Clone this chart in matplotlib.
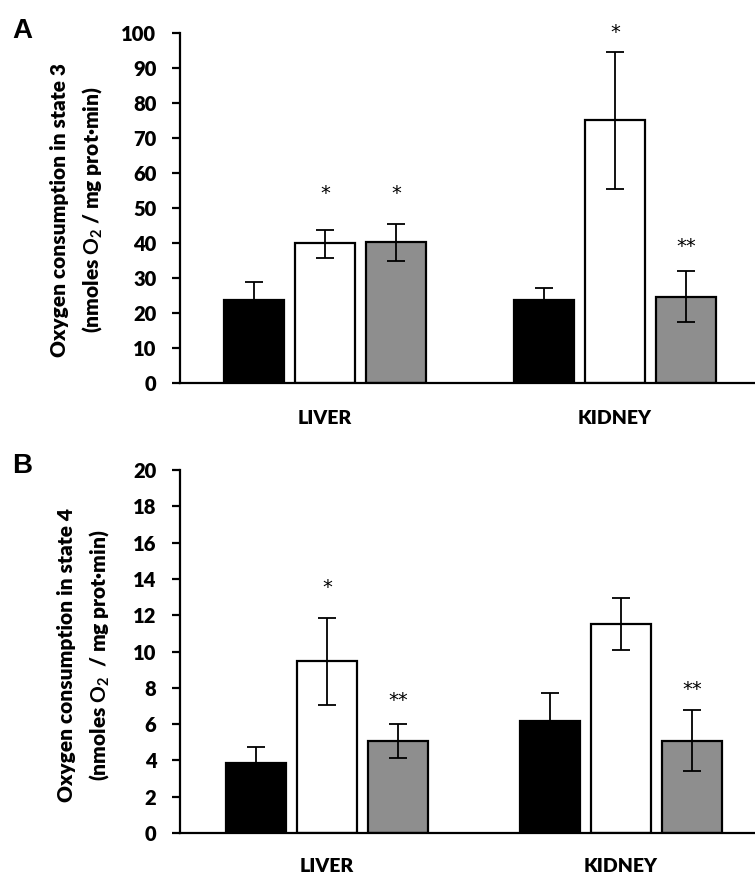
import matplotlib
matplotlib.use("Agg")
import matplotlib.pyplot as plt
import numpy as np

plt.rcParams['font.family'] = ['Lato', 'DejaVu Sans']
plt.rcParams['mathtext.fontset'] = 'custom'
plt.rcParams['mathtext.rm'] = 'Lato:bold'
plt.rcParams['mathtext.bf'] = 'Lato:bold'
plt.rcParams['mathtext.it'] = 'Lato:bold'

# ---- data ----
organs = ["LIVER", "KIDNEY"]
groups = ["Control", "Treatment 1", "Treatment 2"]
bar_colors = ["#000000", "#ffffff", "#8e8e8e"]

# Panel A: state 3
state3_mean = [[23.7, 40.0, 40.2], [23.6, 75.1, 24.7]]
state3_err_hi = [[5.2, 3.7, 5.2], [3.4, 19.5, 7.4]]
state3_err_lo = [[5.2, 4.3, 5.4], [3.4, 19.6, 7.3]]
state3_sig = [["", "*", "*"], ["", "*", "**"]]
state3_sig_y = [[None, 54, 54], [None, 100, 39]]

# Panel B: state 4
state4_mean = [[3.86, 9.48, 5.07], [6.17, 11.5, 5.07]]
state4_err_hi = [[0.88, 2.37, 0.93], [1.54, 1.45, 1.71]]
state4_err_lo = [[0.88, 2.43, 0.94], [1.54, 1.42, 1.65]]
state4_sig = [["", "*", "**"], ["", "", "**"]]
state4_sig_y = [[None, 13.5, 7.3], [None, None, 7.9]]

W, H = 755, 874
fig = plt.figure(figsize=(W / 100, H / 100), dpi=100)


def make_panel(ax_rect, mean, ehi, elo, sig, sig_y, ymax, ystep, px_per_unit,
               label_y_px, ylab1, ylab2, ylab_x, ylab_yc, letter, letter_y):
    ax = fig.add_axes(ax_rect)
    width_px = ax_rect[2] * W
    xr = width_px / px_per_unit
    centers = np.array([0.5, 1.5])
    offs = 71.0 / px_per_unit
    bw = 60.0 / px_per_unit
    for gi in range(3):
        xs = centers + (gi - 1) * offs
        vals = [mean[oi][gi] for oi in range(2)]
        yerr = [[elo[oi][gi] for oi in range(2)], [ehi[oi][gi] for oi in range(2)]]
        ax.bar(xs, vals, width=bw, color=bar_colors[gi], edgecolor="black",
               linewidth=1.6, zorder=2)
        ax.errorbar(xs, vals, yerr=yerr, fmt="none", ecolor="black",
                    elinewidth=1.3, capsize=6.5, capthick=1.3, zorder=3)
        for oi in range(2):
            if sig[oi][gi]:
                ax.text(xs[oi], sig_y[oi][gi], sig[oi][gi], ha="center",
                        va="center", fontsize=14, color="black",
                        family="DejaVu Sans")
    ax.set_xlim(0, xr)
    ax.set_ylim(0, ymax)
    ax.set_yticks(np.arange(0, ymax + 0.001, ystep))
    ax.set_xticks([])
    for s in ["top", "right"]:
        ax.spines[s].set_visible(False)
    ax.spines["left"].set_linewidth(1.6)
    ax.spines["bottom"].set_linewidth(1.6)
    ax.tick_params(axis="y", direction="out", length=6, width=1.6, pad=11,
                   labelsize=14.5)
    for t in ax.get_yticklabels():
        t.set_fontweight("heavy")
    for oi, org in enumerate(organs):
        cx = ax_rect[0] + (centers[oi] / xr) * ax_rect[2]
        fig.text(cx, 1 - label_y_px / H, org, ha="center", va="center",
                 fontsize=14, fontweight="heavy")
    fig.text(ylab_x[0] / W, 1 - ylab_yc / H, ylab1, rotation=90, ha="center",
             va="center", fontsize=15, fontweight="heavy")
    fig.text(ylab_x[1] / W, 1 - ylab_yc / H, ylab2, rotation=90, ha="center",
             va="center", fontsize=15, fontweight="heavy")
    fig.text(12 / W, 1 - letter_y / H, letter, ha="left", va="center",
             fontsize=20, fontweight="bold", family="Liberation Sans")
    return ax


# Panel A
make_panel([180 / W, 1 - 383 / H, (W - 180) / W, 350 / H],
           state3_mean, state3_err_hi, state3_err_lo, state3_sig, state3_sig_y,
           100, 10, 290.0, 419,
           "Oxygen consumption in state 3",
           r"(nmoles $\mathrm{O_2}$ / mg prot·min)",
           (60, 92), 210, "A", 31)

# Panel B
make_panel([180 / W, 1 - 833 / H, (W - 180) / W, 363 / H],
           state4_mean, state4_err_hi, state4_err_lo, state4_sig, state4_sig_y,
           20, 2, 294.0, 866,
           "Oxygen consumption in state 4",
           r"(nmoles $\mathrm{O_2}$  / mg prot·min)",
           (67, 99), 655, "B", 466)

fig.savefig("out.png", dpi=100)
